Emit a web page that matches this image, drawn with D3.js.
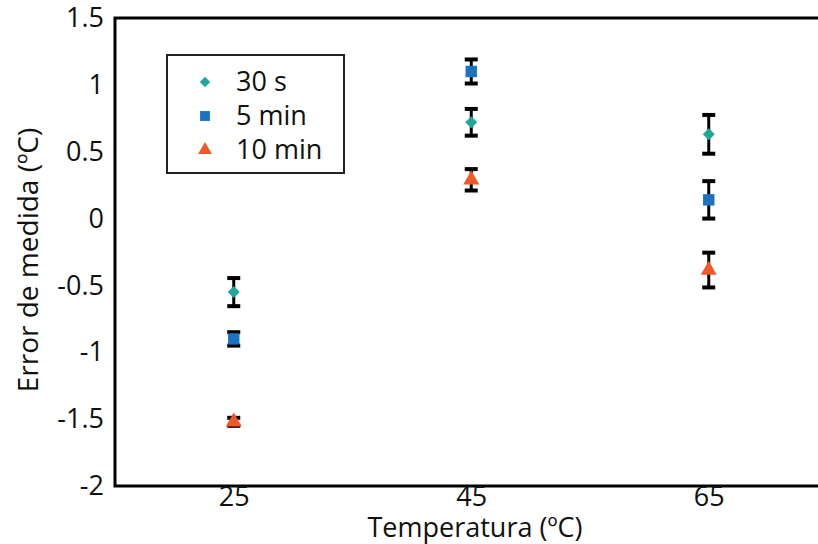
<!DOCTYPE html>
<html>
<head>
<meta charset="utf-8">
<script src="https://cdn.jsdelivr.net/npm/d3@7"></script>
<style>
  body { margin: 0; background: #fff; }
  text { font-family: "Open Sans", sans-serif; fill: #111; }
</style>
</head>
<body>
<div id="chart"></div>
<script>
// data
const temps = [25, 45, 65];
const seriesNames = ['30 s', '5 min', '10 min'];
const err30s = [-0.55, 0.72, 0.63];
const sd30s = [0.105, 0.10, 0.145];
const err5min = [-0.90, 1.10, 0.14];
const sd5min = [0.05, 0.09, 0.14];
const err10min = [-1.52, 0.29, -0.385];
const sd10min = [0.03, 0.08, 0.13];
const yTicks = [-2, -1.5, -1, -0.5, 0, 0.5, 1, 1.5];

const colors = ['#1fa89a', '#1b72c0', '#f0582a'];
const symbols = [d3.symbolSquare, d3.symbolSquare, d3.symbolTriangle];
const rotations = [45, 0, 0];
const sizes = [72, 130, 110];

const W = 818, H = 544;
const space = { top: 18, left: 115, bottom: 58 };

const svg = d3.select('#chart')
  .append('svg')
  .attr('width', W)
  .attr('height', H);

const xScale = d3.scaleLinear()
  .domain([15, 75])
  .range([space.left, space.left + 712.5]);

const yScale = d3.scaleLinear()
  .domain([-2, 1.5])
  .range([H - space.bottom, space.top]);

// plot frame (right side goes past the window)
svg.append('rect')
  .attr('x', xScale(15))
  .attr('y', yScale(1.5))
  .attr('width', xScale(75) - xScale(15))
  .attr('height', yScale(-2) - yScale(1.5))
  .attr('fill', 'none')
  .attr('stroke', '#000')
  .attr('stroke-width', 3);

// axes, only labels
const yAxis = d3.axisLeft(yScale).tickValues(yTicks).tickSize(0).tickPadding(11)
  .tickFormat(d => String(d));
svg.append('g')
  .attr('transform', `translate(${space.left}, 0)`)
  .call(yAxis)
  .call(g => g.select('.domain').remove())
  .selectAll('text')
  .style('font-size', '27px')
  .style('font-family', '"Open Sans", sans-serif')
  .attr('fill', '#111');

const xAxis = d3.axisBottom(xScale).tickValues(temps).tickSize(0).tickPadding(1);
svg.append('g')
  .attr('transform', `translate(0, ${yScale(-2)})`)
  .call(xAxis)
  .call(g => g.select('.domain').remove())
  .selectAll('text')
  .style('font-size', '27px')
  .style('font-family', '"Open Sans", sans-serif')
  .attr('fill', '#111');

// axis titles
svg.append('text')
  .text('Temperatura (ºC)')
  .attr('x', 475)
  .attr('y', 537)
  .attr('text-anchor', 'middle')
  .style('font-size', '27px');

svg.append('text')
  .text('Error de medida (ºC)')
  .attr('transform', 'translate(38, 260) rotate(-90)')
  .attr('text-anchor', 'middle')
  .style('font-size', '28px');

// build series
const values = [err30s, err5min, err10min];
const errors = [sd30s, sd5min, sd10min];
const series = seriesNames.map((name, s) => ({
  name,
  points: temps.map((t, i) => ({ t, v: values[s][i], e: errors[s][i] }))
}));

const capW = 6.5;
series.forEach((ser, s) => {
  const g = svg.append('g');
  const bars = g.selectAll('.err')
    .data(ser.points)
    .enter()
    .append('g')
    .attr('class', 'err')
    .attr('stroke', '#000')
    .attr('stroke-width', 3);
  bars.append('line')
    .attr('x1', d => xScale(d.t)).attr('x2', d => xScale(d.t))
    .attr('y1', d => yScale(d.v + d.e)).attr('y2', d => yScale(d.v - d.e));
  bars.append('line')
    .attr('x1', d => xScale(d.t) - capW).attr('x2', d => xScale(d.t) + capW)
    .attr('y1', d => yScale(d.v + d.e)).attr('y2', d => yScale(d.v + d.e))
    .attr('stroke-width', 4);
  bars.append('line')
    .attr('x1', d => xScale(d.t) - capW).attr('x2', d => xScale(d.t) + capW)
    .attr('y1', d => yScale(d.v - d.e)).attr('y2', d => yScale(d.v - d.e))
    .attr('stroke-width', 4);
});

series.forEach((ser, s) => {
  svg.append('g').selectAll('.pt')
    .data(ser.points)
    .enter()
    .append('path')
    .attr('class', 'pt')
    .attr('d', d3.symbol().type(symbols[s]).size(sizes[s]))
    .attr('transform', d => `translate(${xScale(d.t)}, ${yScale(d.v)}) rotate(${rotations[s]})`)
    .attr('fill', colors[s]);
});

// legend
const legend = svg.append('g');
legend.append('rect')
  .attr('x', 167).attr('y', 55)
  .attr('width', 177).attr('height', 118)
  .attr('fill', '#fff')
  .attr('stroke', '#222')
  .attr('stroke-width', 2);

const rows = legend.selectAll('.row')
  .data(seriesNames)
  .enter()
  .append('g')
  .attr('class', 'row')
  .attr('transform', (d, i) => `translate(205, ${82 + i * 34})`);
rows.append('path')
  .attr('d', (d, i) => d3.symbol().type(symbols[i]).size(sizes[i] * 0.75)())
  .attr('transform', (d, i) => `rotate(${rotations[i]})`)
  .attr('fill', (d, i) => colors[i]);
rows.append('text')
  .text(d => d)
  .attr('x', 31)
  .attr('dy', '0.35em')
  .style('font-size', '27px');
</script>
</body>
</html>
